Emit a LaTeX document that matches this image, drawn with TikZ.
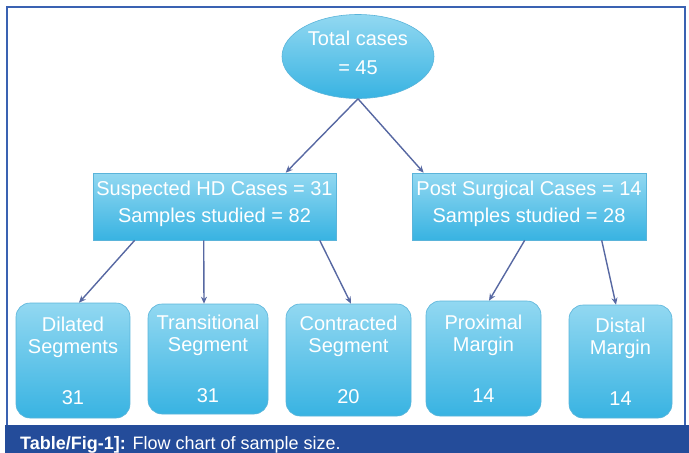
\documentclass[tikz,border=0pt]{standalone}
\usepackage{fontspec}
\setmainfont{Liberation Sans}
\usetikzlibrary{shapes.geometric,arrows.meta}
\definecolor{framecol}{HTML}{3A62B2}
\definecolor{capbar}{HTML}{244C9A}
\definecolor{arrcol}{HTML}{5768A2}
\definecolor{boxtop}{HTML}{92D8F1}
\definecolor{boxbot}{HTML}{38B3E2}
\definecolor{boxedge}{HTML}{5AB4DA}
\begin{document}
\begin{tikzpicture}[x=1pt,y=-1pt,
  blueshade/.style={top color=boxtop,bottom color=boxbot,draw=boxedge,line width=0.6pt,text=white,inner sep=0pt},
  topell/.style={blueshade,ellipse,minimum width=152pt,minimum height=84pt,align=center,font=\fontsize{20}{29}\selectfont},
  midbox/.style={blueshade,rectangle,align=center,font=\fontsize{20}{27}\selectfont},
  leafbox/.style={blueshade,rectangle,rounded corners=14pt,align=center,font=\fontsize{20}{22}\selectfont},
  arr/.style={draw=arrcol,line width=1.4pt,-{Stealth[length=7pt,width=6pt]}}]
\useasboundingbox (0,0) rectangle (689,453);
% frame and caption bar
\draw[framecol,line width=1.3pt] (7,425) -- (7,7) -- (685,7) -- (685,425);
\fill[capbar] (5,425) rectangle (689,453);
\node[anchor=base west,text=white,inner sep=0pt,font=\fontsize{18}{20}\selectfont] (cap) at (20,449) {\textbf{Table/Fig-1]:} Flow chart of sample size.};
% nodes
\node[topell] (E) at (358,56.5) {Total cases\\= 45\rule[-7.6pt]{0pt}{0pt}};
\node[midbox,minimum width=243pt,minimum height=67pt] (L) at (214.5,206.5) {Suspected HD Cases = 31\\Samples studied = 82\rule[-10.5pt]{0pt}{0pt}};
\node[midbox,minimum width=234pt,minimum height=67pt] (R) at (529,206.5) {Post Surgical Cases = 14\\Samples studied = 28\rule[-10.5pt]{0pt}{0pt}};
\node[leafbox,minimum width=114pt,minimum height=115pt] (D1) at (73,360.5) {Dilated\\Segments\\[29pt]31};
\node[leafbox,minimum width=120pt,minimum height=110pt] (D2) at (208,359) {Transitional\\Segment\\[29pt]31};
\node[leafbox,minimum width=125pt,minimum height=112pt] (D3) at (348.5,360) {Contracted\\Segment\\[29pt]20};
\node[leafbox,minimum width=115pt,minimum height=115pt] (D4) at (483.5,358.5) {Proximal\\Margin\\[29pt]14};
\node[leafbox,minimum width=103pt,minimum height=113pt] (D5) at (620.5,361.5) {Distal\\Margin\\[29pt]14};
% connectors
\draw[arr] (E.south) -- ([xshift=193pt]L.north west);
\draw[arr] (E.south) -- ([xshift=12pt]R.north west);
\draw[arr] ([xshift=42pt]L.south west) -- ([xshift=6pt]D1.north);
\draw[arr] ([xshift=111pt]L.south west) -- ([xshift=-4pt]D2.north);
\draw[arr] ([xshift=227pt]L.south west) -- ([xshift=2.5pt]D3.north);
\draw[arr] ([xshift=113pt]R.south west) -- ([xshift=5.5pt]D4.north);
\draw[arr] ([xshift=190pt]R.south west) -- ([xshift=-4.5pt]D5.north);
\end{tikzpicture}
\end{document}
